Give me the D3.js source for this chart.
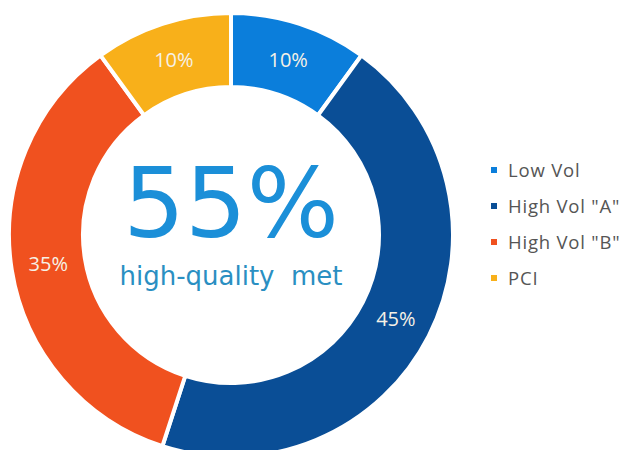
<!DOCTYPE html>
<html>
<head>
<meta charset="utf-8">
<script src="https://cdn.jsdelivr.net/npm/d3@7"></script>
<style>
  html, body { margin: 0; padding: 0; background: #ffffff; }
  svg { display: block; }
</style>
</head>
<body>
<svg id="chart" width="624" height="450"></svg>
<script>
// Share of cases by volume group
const categories = ["Low Vol", "High Vol \"A\"", "High Vol \"B\"", "PCI"];
const shares = [10, 45, 35, 10];
const sliceLabels = ["10%", "45%", "35%", "10%"];
const colors = ["#0b7edb", "#0a4e96", "#f0511f", "#f8b01a"];

// Headline figure shown in the hole
const headlineValue = "55%";
const headlineCaption = "high-quality  met";

const svg = d3.select("#chart");
const cx = 231, cy = 235;
const outerR = 222, innerR = 148;

const data = categories.map((c, i) => ({ name: c, value: shares[i], label: sliceLabels[i], color: colors[i] }));

const pie = d3.pie().value(d => d.value).sort(null);
const arc = d3.arc().innerRadius(innerR).outerRadius(outerR);

const g = svg.append("g").attr("transform", `translate(${cx},${cy})`);

const slices = g.selectAll("g.slice").data(pie(data)).join("g").attr("class", "slice");

slices.append("path")
  .attr("d", arc)
  .attr("fill", d => d.data.color)
  .attr("stroke", "#ffffff")
  .attr("stroke-width", 4)
  .attr("stroke-linejoin", "miter");

slices.append("text")
  .attr("transform", d => `translate(${arc.centroid(d)})`)
  .attr("text-anchor", "middle")
  .attr("dominant-baseline", "central")
  .attr("font-family", "'Open Sans', sans-serif")
  .attr("font-size", 20)
  .attr("fill", "#f6f1e6")
  .text(d => d.data.label);

// Centre text
g.append("text")
  .attr("x", 0)
  .attr("y", 2)
  .attr("text-anchor", "middle")
  .attr("font-family", "'DejaVu Sans', sans-serif")
  .attr("font-size", 97)
  .attr("fill", "#1b8fd8")
  .text(headlineValue);

g.append("text")
  .attr("x", 0)
  .attr("y", 50)
  .attr("text-anchor", "middle")
  .attr("font-family", "'DejaVu Sans', sans-serif")
  .attr("font-size", 26)
  .attr("fill", "#2a8fc2")
  .style("white-space", "pre")
  .text(headlineCaption);

// Legend
const legend = svg.append("g").attr("transform", "translate(491,177)");
const items = legend.selectAll("g").data(data).join("g")
  .attr("transform", (d, i) => `translate(0,${i * 36})`);

items.append("rect")
  .attr("x", 0).attr("y", -10)
  .attr("width", 6).attr("height", 6)
  .attr("fill", d => d.color);

items.append("text")
  .attr("x", 17)
  .attr("y", 0)
  .attr("font-family", "'Open Sans', sans-serif")
  .attr("font-size", 18.5)
  .attr("letter-spacing", 0.8)
  .attr("fill", "#555555")
  .text(d => d.name);
</script>
</body>
</html>
